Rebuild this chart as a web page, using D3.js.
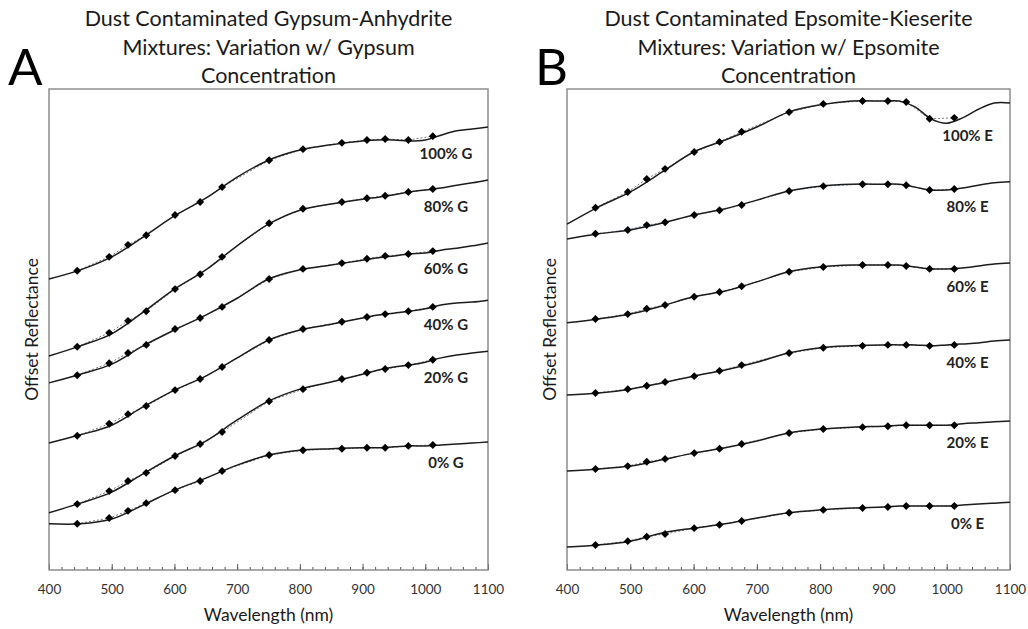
<!DOCTYPE html>
<html>
<head>
<meta charset="utf-8">
<script src="https://cdn.jsdelivr.net/npm/d3@7"></script>
<style>
  body { margin: 0; background: #fff; }
  text { font-family: Lato, "Open Sans", sans-serif; }
</style>
</head>
<body>
<script>
// filter band centres (nm) where the diamonds sit
const bandWl = [445, 496, 526, 555, 601, 641, 676, 751, 805, 867, 907, 936, 973, 1012]
// wavelengths the continuous spectra were read at
const specWl = [400, 450, 500, 550, 600, 650, 700, 750, 800, 850, 900, 925, 950, 975, 1000, 1025, 1050, 1075, 1100]

// panel A: gypsum-anhydrite (offset reflectance, arbitrary units)
const gypLabels = ["100% G", "80% G", "60% G", "40% G", "20% G", "0% G"]
const gypSpectra = [
  [60.5, 62.4, 65.1, 69.2, 73.6, 77.3, 81.7, 85.2, 87.3, 88.4, 89.2, 89.4, 89.4, 89.2, 89.4, 90.4, 91.3, 91.7, 92.1],
  [44.5, 46.6, 49.1, 53.6, 58.4, 62.4, 67.4, 71.9, 74.8, 76.1, 77.1, 77.5, 78.0, 78.6, 79.0, 79.4, 80.0, 80.5, 81.1],
  [38.9, 40.7, 42.8, 46.6, 49.9, 53.0, 56.5, 60.5, 62.4, 63.4, 64.4, 64.9, 65.3, 65.7, 65.9, 66.5, 66.9, 67.4, 68.0],
  [26.4, 28.1, 30.1, 33.9, 37.4, 40.3, 44.1, 47.8, 49.9, 51.1, 52.4, 53.0, 53.4, 53.8, 54.3, 55.1, 55.5, 55.7, 56.1],
  [11.9, 13.9, 16.2, 20.0, 23.7, 26.8, 31.2, 35.1, 37.6, 39.1, 40.7, 41.6, 42.2, 42.6, 43.2, 44.1, 44.7, 45.1, 45.5],
  [9.6, 9.6, 10.6, 13.5, 16.6, 19.1, 21.8, 23.9, 24.9, 25.2, 25.4, 25.4, 25.6, 25.8, 25.8, 26.0, 26.2, 26.4, 26.6]
]
const gypBands = [
  [62.2, 65.1, 67.6, 69.6, 73.8, 76.5, 79.6, 85.2, 87.5, 88.8, 89.4, 89.6, 89.4, 90.2],
  [46.4, 49.3, 51.8, 53.8, 58.4, 61.5, 65.1, 72.1, 75.1, 76.5, 77.3, 77.8, 78.6, 79.2],
  [40.5, 43.0, 45.1, 46.8, 50.1, 52.4, 54.7, 60.5, 62.6, 63.8, 64.7, 65.3, 65.7, 66.3],
  [27.9, 30.4, 32.4, 34.1, 37.4, 39.7, 42.2, 47.8, 50.1, 51.6, 52.6, 53.2, 53.8, 54.7],
  [13.7, 16.4, 18.5, 20.2, 23.7, 26.2, 28.7, 35.1, 37.6, 39.7, 41.0, 41.8, 42.6, 43.7],
  [9.6, 10.8, 12.3, 13.9, 16.6, 18.5, 20.6, 23.9, 24.9, 25.2, 25.4, 25.4, 25.8, 26.0]
]

// panel B: epsomite-kieserite
const epsLabels = ["100% E", "80% E", "60% E", "40% E", "20% E", "0% E"]
const epsSpectra = [
  [71.9, 75.5, 78.6, 82.7, 86.9, 89.4, 92.1, 95.2, 96.7, 97.5, 97.5, 97.5, 96.3, 93.8, 92.9, 94.0, 95.8, 97.1, 97.1],
  [68.8, 69.9, 70.7, 72.1, 73.8, 75.1, 76.9, 78.8, 79.8, 80.2, 80.2, 80.2, 79.6, 79.0, 79.0, 79.4, 80.0, 80.5, 80.7],
  [51.4, 52.2, 53.2, 54.9, 56.8, 58.0, 59.9, 62.0, 63.0, 63.4, 63.4, 63.4, 63.0, 62.6, 62.6, 62.8, 63.2, 63.6, 63.8],
  [36.4, 36.8, 37.6, 38.9, 40.3, 41.6, 43.2, 45.1, 46.2, 46.6, 46.8, 46.8, 46.8, 46.6, 46.8, 47.0, 47.2, 47.6, 47.8],
  [20.6, 21.0, 21.6, 22.9, 24.3, 25.4, 26.8, 28.5, 29.3, 29.7, 29.9, 30.1, 30.1, 30.1, 30.1, 30.4, 30.6, 30.8, 31.0],
  [4.8, 5.2, 6.0, 7.7, 8.7, 9.6, 10.8, 11.9, 12.5, 12.9, 13.1, 13.3, 13.3, 13.3, 13.3, 13.5, 13.7, 13.9, 14.1]
]
const epsBands = [
  [75.3, 78.6, 81.3, 83.4, 86.9, 89.0, 91.1, 95.2, 96.9, 97.5, 97.5, 97.3, 93.8, 94.0],
  [69.9, 70.7, 71.7, 72.3, 73.8, 74.8, 75.9, 78.8, 79.8, 80.2, 80.2, 80.0, 79.0, 79.2],
  [52.2, 53.2, 54.3, 55.1, 56.8, 57.8, 59.0, 62.0, 63.0, 63.4, 63.4, 63.2, 62.6, 62.6],
  [36.8, 37.6, 38.3, 39.1, 40.3, 41.4, 42.6, 45.1, 46.2, 46.6, 46.8, 46.8, 46.6, 46.8],
  [21.0, 21.6, 22.5, 23.1, 24.3, 25.2, 26.2, 28.5, 29.3, 29.7, 29.9, 30.1, 30.1, 30.1],
  [5.2, 6.0, 6.9, 7.5, 8.7, 9.4, 10.2, 11.9, 12.5, 12.9, 13.1, 13.3, 13.3, 13.3]
]

const gypTitle = ["Dust Contaminated Gypsum-Anhydrite", "Mixtures: Variation w/ Gypsum", "Concentration"]
const epsTitle = ["Dust Contaminated Epsomite-Kieserite", "Mixtures: Variation w/ Epsomite", "Concentration"]

const svgWidth = 1028
const svgHeight = 629

const svg = d3.select("body").append("svg")
  .attr("width", svgWidth)
  .attr("height", svgHeight)

function drawPanel(opts) {
  const top = 89, bottom = 570
  const x = d3.scaleLinear().domain([400, 1100]).range([opts.left, opts.right])
  const y = d3.scaleLinear().domain([0, 100]).range([bottom, top])
  const cx = (opts.left + opts.right) / 2

  const g = svg.append("g")

  // title
  g.append("text")
    .attr("text-anchor", "middle")
    .attr("font-size", "21.5px")
    .attr("fill", "#1a1a1a")
    .selectAll("tspan")
    .data(opts.title)
    .enter()
    .append("tspan")
    .attr("x", cx)
    .attr("y", (d, i) => 26 + i * 28.5)
    .text(d => d)

  g.append("text")
    .attr("x", opts.letterX)
    .attr("y", 85)
    .attr("font-size", "51px")
    .attr("fill", "#000")
    .text(opts.letter)

  // minor + major ticks, pointing in
  g.append("g")
    .attr("transform", `translate(0, ${bottom})`)
    .call(d3.axisBottom(x).tickValues(d3.range(400, 1101, 20)).tickSize(-3).tickFormat(""))
    .call(a => a.select(".domain").remove())
    .call(a => a.selectAll("line").attr("stroke", "#555"))

  g.append("g")
    .attr("transform", `translate(0, ${bottom})`)
    .call(d3.axisBottom(x).tickValues(d3.range(400, 1101, 100)).tickSize(-6).tickPadding(14).tickFormat(d3.format("d")))
    .call(a => a.select(".domain").remove())
    .call(a => a.selectAll("line").attr("stroke", "#555"))
    .call(a => a.selectAll("text")
      .attr("font-size", "13.5px")
      .attr("fill", "#333")
      .style("font-family", "Lato, sans-serif"))

  g.append("rect")
    .attr("x", opts.left)
    .attr("y", top)
    .attr("width", opts.right - opts.left)
    .attr("height", bottom - top)
    .attr("fill", "none")
    .attr("stroke", "#858585")
    .attr("stroke-width", 1.4)

  g.append("text")
    .attr("x", cx)
    .attr("y", 621)
    .attr("text-anchor", "middle")
    .attr("font-size", "17.5px")
    .attr("fill", "#1a1a1a")
    .text("Wavelength (nm)")

  g.append("text")
    .attr("transform", `translate(${opts.left - 11}, ${(top + bottom) / 2}) rotate(-90)`)
    .attr("text-anchor", "middle")
    .attr("font-size", "17.5px")
    .attr("fill", "#1a1a1a")
    .text("Offset Reflectance")

  const solid = d3.line()
    .x((d, i) => x(specWl[i]))
    .y(d => y(d))
    .curve(d3.curveCatmullRom.alpha(0.5))

  const dashed = d3.line()
    .x((d, i) => x(bandWl[i]))
    .y(d => y(d))

  const diamond = d3.symbol().type(d3.symbolDiamond2).size(40)

  opts.spectra.forEach((spec, k) => {
    const bands = opts.bands[k]

    g.append("path")
      .attr("d", dashed(bands))
      .attr("fill", "none")
      .attr("stroke", opts.dashColor(k))
      .attr("stroke-width", 1)
      .attr("stroke-dasharray", "2,2")

    g.append("path")
      .attr("d", solid(spec))
      .attr("fill", "none")
      .attr("stroke", "#1c1c1c")
      .attr("stroke-width", 1.5)

    g.append("g")
      .selectAll("path")
      .data(bands)
      .enter()
      .append("path")
      .attr("d", diamond)
      .attr("transform", (d, i) => `translate(${x(bandWl[i])}, ${y(d)})`)
      .attr("fill", "#000")

    g.append("text")
      .attr("x", x(1033))
      .attr("y", y(bands[bands.length - 1]) + 23)
      .attr("text-anchor", "middle")
      .attr("font-size", "15px")
      .attr("font-weight", "bold")
      .attr("fill", "#222")
      .text(opts.labels[k])
  })
}

drawPanel({
  left: 49, right: 488, letter: "A", letterX: 8,
  title: gypTitle, labels: gypLabels, spectra: gypSpectra, bands: gypBands,
  dashColor: k => "#777"
})

drawPanel({
  left: 567, right: 1010, letter: "B", letterX: 535,
  title: epsTitle, labels: epsLabels, spectra: epsSpectra, bands: epsBands,
  dashColor: k => k === 1 ? "#6d8fb3" : "#777"
})
</script>
</body>
</html>
